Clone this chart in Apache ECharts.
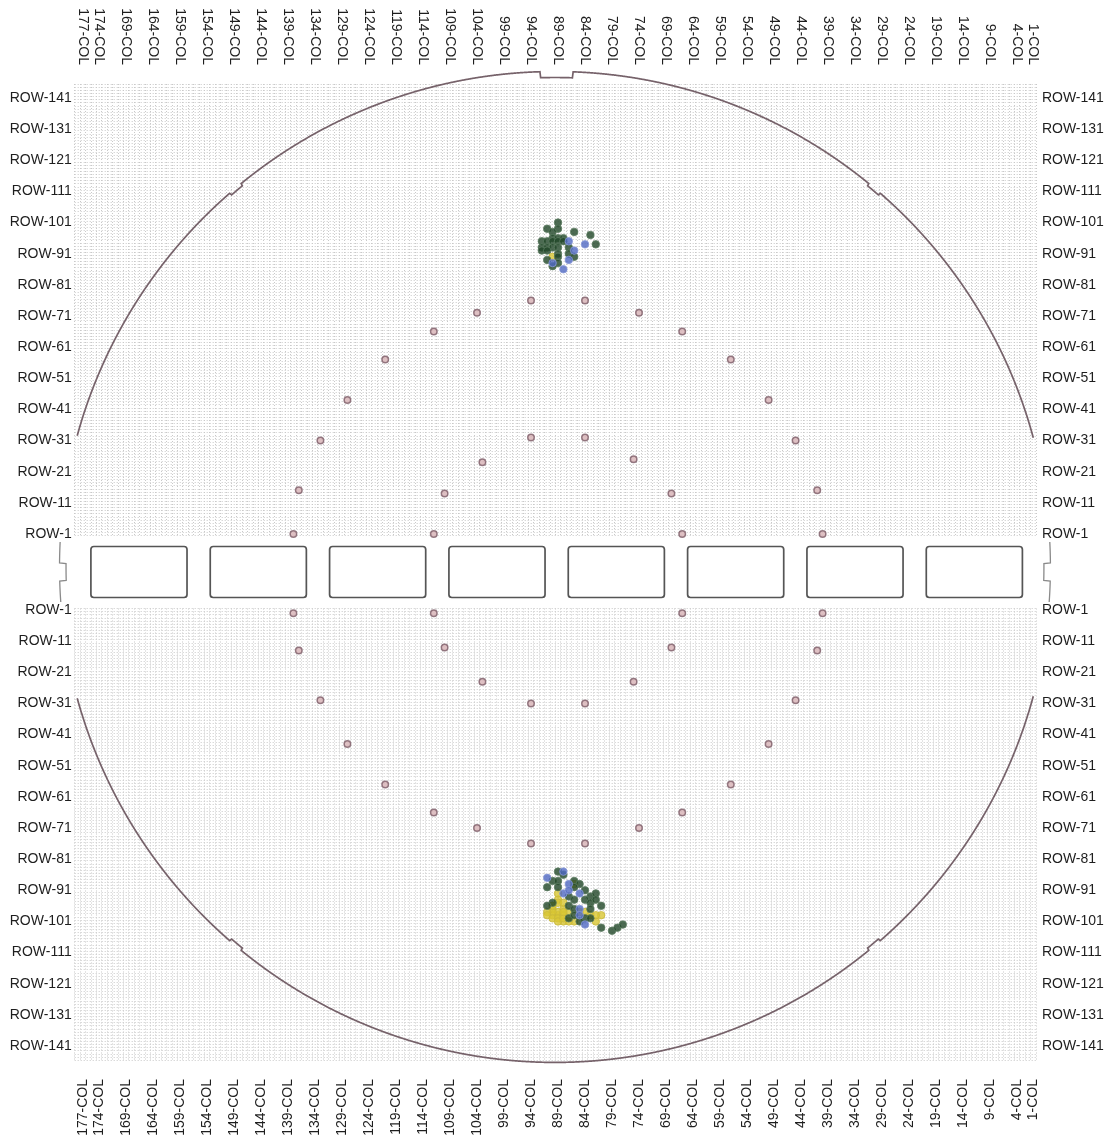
<!DOCTYPE html>
<html><head><meta charset="utf-8">
<script src="https://cdn.jsdelivr.net/npm/echarts@6/dist/echarts.min.js"></script>
<style>html,body{margin:0;padding:0;background:#fff}#c{width:1113px;height:1141px}</style>
</head><body><div id="c"></div>
<script>
// ---- axis tick labels ----
const colLabels = [177,174,169,164,159,154,149,144,139,134,129,124,119,114,109,104,99,94,89,84,79,74,69,64,59,54,49,44,39,34,29,24,19,14,9,4,1];
const rowLabels = [1,11,21,31,41,51,61,71,81,91,101,111,121,131,141];

// ---- reference marks (col,row) ----
const topRefMarks = [[94,76],[84,76],[104,72],[74,72],[112,66],[66,66],[121,57],[57,57],[128,44],[50,44],[133,31],[45,31],[94,32],[84,32],[103,24],[75,25],[137,15],[110,14],[68,14],[41,15],[138,1],[112,1],[66,1],[40,1]];
const bottomRefMarks = [[138,2],[112,2],[66,2],[40,2],[137,14],[110,13],[68,13],[41,14],[103,24],[75,24],[133,30],[94,31],[84,31],[45,30],[128,44],[50,44],[121,57],[57,57],[112,66],[66,66],[104,71],[74,71],[94,76],[84,76]];

// ---- failing dies, top half (col,row) ----
const topGreen = [[89,101],[91,99],[89,99],[86,98],[90,98],[83,97],[90,96],[89,96],[88,96],[92,95],[91,95],[90,95],[89,95],[88,95],[82,94],[92,93],[91,93],[90,93],[89,93],[87,93],[92,92],[91,92],[89,91],[87,91],[91,89],[89,90],[86,90],[89,88],[90,87]];
const topBlue = [[87,95],[84,94],[86,92],[87,89],[90,88],[88,86]];
const topYellow = [[90,90]];

// ---- failing dies, bottom half (col,row) ----
const bottomGreen = [[89,85],[88,86],[90,88],[89,88],[86,88],[85,89],[91,90],[89,90],[86,90],[84,91],[83,93],[82,92],[90,95],[87,93],[86,94],[84,94],[83,95],[82,94],[91,96],[87,96],[86,97],[83,97],[81,96],[87,100],[86,99],[84,100],[83,100],[85,101],[81,103],[79,104],[78,103],[77,102]];
const bottomBlue = [[91,87],[87,89],[88,92],[87,91],[85,92],[85,97],[85,99],[84,102],[88,85]];
const bottomYellow = [[89,94],[90,97],[88,97],[90,99],[89,99],[88,101],[86,101],[82,101],[81,99],[89,95],[88,95],[89,98],[87,98],[90,98],[89,92],[86,89],[91,98],[91,99],[90,100],[89,100],[88,99],[87,101],[89,101],[88,100],[84,98],[83,99],[85,98],[82,99],[90,96],[88,98]];

const FONT = 'Liberation Sans, Arial, sans-serif';
const gridLine = {show:true, lineStyle:{color:'#c9c9c9', width:1, type:[1,2]}};

function xAxis(gi, pos){
  return {gridIndex:gi, type:'value', position:pos, inverse:true, min:0.5, max:178.5, interval:1,
    axisLine:{show:false}, axisTick:{show:false}, splitLine:gridLine,
    axisLabel:{customValues:colLabels, rotate:90, formatter:v=>v+'-COL', fontSize:14, color:'#1e1e1e', fontFamily:FONT, margin:19}};
}
function yAxis(gi, pos, inv, grid){
  return {gridIndex:gi, type:'value', position:pos, inverse:inv, min:0.5, max:145.5, interval:1,
    axisLine:{show:false}, axisTick:{show:false}, splitLine: grid ? gridLine : {show:false},
    axisLabel:{customValues:rowLabels, formatter:v=>'ROW-'+v, fontSize:14, color:'#1e1e1e', fontFamily:FONT, margin: pos==='left'?3:6}};
}

const refStyle = {color:'#d6b0b4', borderColor:'#7c5b66', borderWidth:1.5};
const greenStyle = {color:'#1f4527', borderColor:'#5d7d62', borderWidth:1};
const blueStyle = {color:'#4f68c2', borderColor:'#8a9ad8', borderWidth:1};
const yellowStyle = {color:'#d8c632', borderColor:'#c9b93c', borderWidth:1};

function sc(data, xi, yi, style, size){
  return {type:'scatter', xAxisIndex:xi, yAxisIndex:yi, data:data, symbol:'circle', symbolSize:size, itemStyle:style, silent:true};
}

const chart = echarts.init(document.getElementById('c'), null, {renderer:'canvas'});
const option = {
  animation:false,
  backgroundColor:'#fff',
  grid:[
    {left:74.7, top:84, width:961.2, height:451.5},
    {left:74.7, top:608.5, width:961.2, height:451.5}
  ],
  xAxis:[xAxis(0,'top'), xAxis(1,'bottom')],
  yAxis:[yAxis(0,'left',false,true), yAxis(0,'right',false,false), yAxis(1,'left',true,true), yAxis(1,'right',true,false)],
  series:[
    sc(topRefMarks,0,0,refStyle,6.5),
    sc(topYellow,0,0,yellowStyle,7.5),
    sc(topGreen,0,0,greenStyle,7.5),
    sc(topBlue,0,0,blueStyle,7.5),
    sc(bottomRefMarks,1,2,refStyle,6.5),
    sc(bottomYellow,1,2,yellowStyle,7.5),
    sc(bottomGreen,1,2,greenStyle,7.5),
    sc(bottomBlue,1,2,blueStyle,7.5)
  ]
};
chart.setOption(option);

// ---- wafer outline & reticle band (decoration), placed through the axes ----
const P0 = v => chart.convertToPixel({xAxisIndex:0, yAxisIndex:0}, v);
const P1 = v => chart.convertToPixel({xAxisIndex:1, yAxisIndex:2}, v);
const pxPerCol = Math.abs(P0([1,1])[0] - P0([0,1])[0]);
const cx = P0([89.56, 1])[0];
const cy = P0([1, -9.6])[1];
const R = 91.75 * pxPerCol;
const gl = P0([178.5,1])[0], gr = P0([0.5,1])[0];
const yb0 = P0([1,0.5])[1], yt1 = P1([1,0.5])[1];
const mid = (yb0 + yt1) / 2;

function notchDepth(x0, isTop){
  const d = x0 - cx;
  if (isTop && d > -15 && d < 18) return 6;
  if (Math.abs(d) > 314 && Math.abs(d) < 325) return 2.5;
  return 0;
}
function arcPoints(isTop){
  const pts = [];
  const N = 3000;
  for (let i=0;i<=N;i++){
    const th = isTop ? (-Math.PI + Math.PI*i/N) : (Math.PI - Math.PI*i/N);
    const x0 = cx + R*Math.cos(th);
    const y0 = cy + R*Math.sin(th);
    if (x0 < gl + 2.5 || x0 > gr - 2.5) continue;
    if (isTop && y0 > yb0) continue;
    if (!isTop && y0 < yt1) continue;
    const r = R - notchDepth(x0, isTop);
    pts.push([cx + r*Math.cos(th), cy + r*Math.sin(th)]);
  }
  return pts;
}
function flatPoints(side){
  const pts = [];
  for (let y = yb0 + 6.5; y <= yt1 - 6.5; y += 0.5){
    let x = cx + side*Math.sqrt(R*R - (y-cy)*(y-cy));
    if (Math.abs(y - mid) < 9) x -= side*6.5;
    pts.push([x, y]);
  }
  return pts;
}
const outlineStyle = {stroke:'#76626a', lineWidth:1.7, fill:null};
const graphics = [
  {type:'polyline', shape:{points:arcPoints(true)}, style:outlineStyle, silent:true},
  {type:'polyline', shape:{points:arcPoints(false)}, style:outlineStyle, silent:true},
  {type:'polyline', shape:{points:flatPoints(-1)}, style:{stroke:'#8a8a8a', lineWidth:1.3, fill:null}, silent:true},
  {type:'polyline', shape:{points:flatPoints(1)}, style:{stroke:'#8a8a8a', lineWidth:1.3, fill:null}, silent:true}
];
for (let k=0;k<8;k++){
  const xa = P0([175.5 - 22.1*k, 1])[0];
  const xb = P0([157.7 - 22.1*k, 1])[0];
  graphics.push({type:'rect', shape:{x:xa, y:mid-25.5, width:xb-xa, height:51, r:3},
    style:{stroke:'#555555', lineWidth:1.7, fill:'#ffffff'}, silent:true});
}
chart.setOption({graphic:graphics});
</script>
</body></html>
